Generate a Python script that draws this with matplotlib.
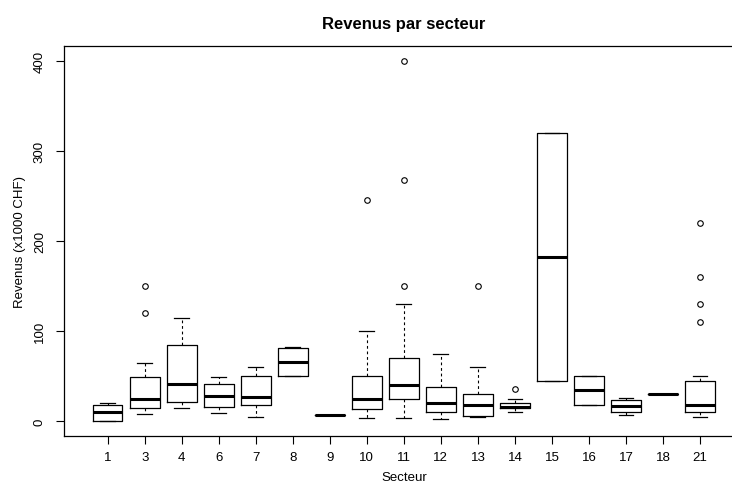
import numpy as np
import matplotlib
matplotlib.use("Agg")
import matplotlib.pyplot as plt

plt.rcParams['font.family'] = ['Liberation Sans', 'DejaVu Sans']

# sectors and box statistics (x1000 CHF)
secteurs = ['1', '3', '4', '6', '7', '8', '9', '10', '11', '12', '13', '14', '15', '16', '17', '18', '21']
whislo = [0, 8, 14.5, 9, 5, 50, 7, 4, 3.5, 2, 5, 10.5, 45, 18, 7.5, 30, 5]
q1 = [0, 15, 21, 16, 18, 50, 7, 14, 25, 10, 6, 14.5, 45, 18, 10, 30, 10]
med = [10, 25, 41, 28.5, 27, 65.5, 7, 24.5, 40, 20.5, 18, 15.5, 182, 34.5, 17, 30, 18]
q3 = [18, 49, 85, 41.5, 50, 81, 7, 50, 70, 37.5, 30, 20, 320, 50, 24, 30, 45]
whishi = [20, 65, 115, 49, 60, 82, 7, 100, 130, 75, 60, 25, 320, 50, 25.5, 30, 50]
fliers = [[], [150, 120], [], [], [], [], [], [245], [400, 268, 150], [], [150], [36],
          [], [], [], [], [220, 160, 130, 110]]

stats = []
for i in range(len(secteurs)):
    stats.append(dict(whislo=whislo[i], q1=q1[i], med=med[i], q3=q3[i],
                      whishi=whishi[i], fliers=fliers[i], label=secteurs[i]))

fig = plt.figure(figsize=(7.32, 4.85), dpi=100)
# the plot frame runs past the right edge of the picture, as in the reference
ax = fig.add_axes([64 / 732, (485 - 436.7) / 485, (743.7 - 64) / 732, (436.7 - 47.3) / 485])

pos = np.arange(1, len(secteurs) + 1)
ax.bxp(stats, positions=pos, widths=0.8, capwidths=0.4, showfliers=True,
       boxprops=dict(color='black', linewidth=0.9),
       medianprops=dict(color='black', linewidth=2.2, solid_capstyle='butt'),
       whiskerprops=dict(color='black', linewidth=0.8, linestyle=(0, (2.5, 2.5))),
       capprops=dict(color='black', linewidth=0.9),
       flierprops=dict(marker='o', markerfacecolor='none', markeredgecolor='black',
                       markersize=4, markeredgewidth=0.8))

ax.set_xlim(-0.18, 18.18)
ax.set_ylim(-16, 416)
ax.set_xticks(pos)
ax.set_xticklabels(secteurs)
ax.set_yticks([0, 100, 200, 300, 400])
ax.set_yticklabels(['0', '100', '200', '300', '400'], rotation=90, va='center')
ax.tick_params(direction='out', length=6, width=0.8, labelsize=9.5, pad=5)
ax.tick_params(axis='y', pad=7)

for s in ax.spines.values():
    s.set_linewidth(0.9)
    s.set_color('black')

ax.set_title('Revenus par secteur', fontsize=12, fontweight='bold', pad=13)
ax.set_xlabel('Secteur', fontsize=9.5, labelpad=6)
ax.set_ylabel('Revenus (x1000 CHF)', fontsize=9.5, labelpad=6)

fig.savefig('out.png', dpi=100)
